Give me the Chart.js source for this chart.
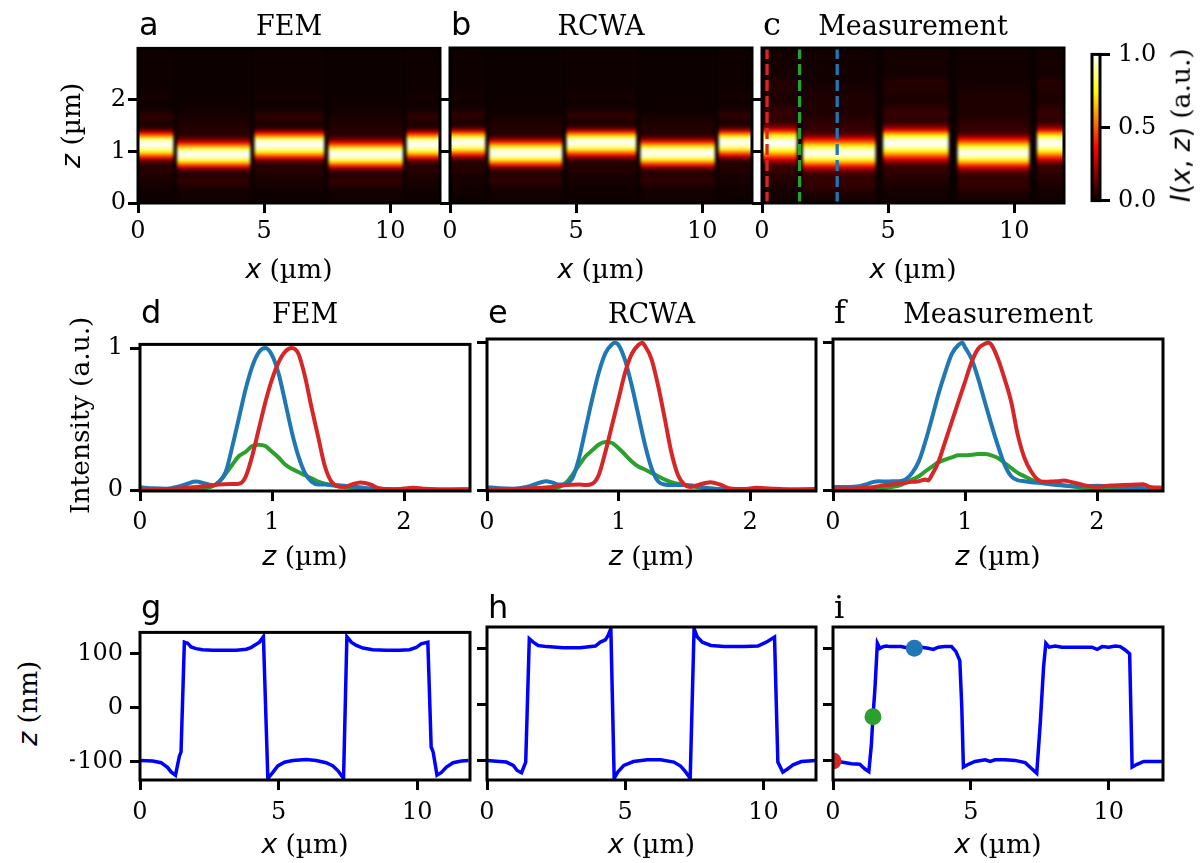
<!DOCTYPE html>
<html>
<head>
<meta charset="utf-8">
<script src="https://cdn.jsdelivr.net/npm/chart.js@4.4.0/dist/chart.umd.min.js"></script>
<style>
  body { margin: 0; background: #fff; }
  #fig { position: relative; width: 1201px; height: 863px; overflow: hidden; background: #fff; }
  canvas { position: absolute; }
  .t { position: absolute; white-space: nowrap; line-height: 1; color: #000; font-family: 'DejaVu Serif', serif; }
  .m { font-family: 'DejaVu Sans', sans-serif; font-style: italic; }
  .s { font-family: 'DejaVu Sans', sans-serif; }
</style>
</head>
<body>
<div id="fig"></div>
<script>
// ---- profiles I(z) along the three cuts (red x=0.2, green x=1.5, blue x=3 um) ----
const femBlueZ = [0,0.1,0.2,0.3,0.36,0.42,0.5,0.55,0.6,0.65,0.7,0.75,0.8,0.85,0.9,0.95,1.0,1.05,1.1,1.15,1.2,1.25,1.3,1.35,1.4,1.5,1.6,1.7,1.8,2.0,2.2,2.5];
const femBlueI = [0.02,0.013,0.01,0.027,0.045,0.06,0.045,0.034,0.06,0.13,0.31,0.51,0.71,0.87,0.97,1.0,0.95,0.82,0.62,0.41,0.24,0.12,0.06,0.04,0.04,0.034,0.027,0.016,0.01,0.005,0.003,0.003];
const femRedZ = [0,0.2,0.4,0.5,0.6,0.7,0.75,0.8,0.85,0.9,0.95,1.0,1.05,1.1,1.15,1.2,1.25,1.3,1.35,1.4,1.45,1.5,1.55,1.6,1.67,1.75,1.8,1.9,2.0,2.07,2.15,2.3,2.5];
const femRedI = [0.003,0.007,0.02,0.027,0.04,0.043,0.045,0.094,0.24,0.43,0.62,0.78,0.9,0.975,1.0,0.96,0.80,0.58,0.375,0.17,0.06,0.027,0.022,0.038,0.054,0.038,0.016,0.005,0.011,0.016,0.01,0.005,0.007];
const femGreenZ = [0,0.3,0.5,0.55,0.6,0.65,0.7,0.75,0.8,0.85,0.9,0.95,1.0,1.05,1.1,1.15,1.2,1.25,1.3,1.35,1.4,1.5,1.6,1.7,2.0,2.5];
const femGreenI = [0.002,0.004,0.016,0.027,0.06,0.117,0.18,0.24,0.27,0.31,0.32,0.31,0.27,0.23,0.18,0.15,0.128,0.105,0.083,0.06,0.045,0.027,0.016,0.009,0.002,0.002];

const rcwaBlueZ = [0,0.1,0.2,0.3,0.4,0.45,0.5,0.55,0.6,0.65,0.7,0.75,0.8,0.85,0.9,0.95,0.97,1.0,1.05,1.1,1.15,1.2,1.25,1.3,1.35,1.4,1.5,1.6,1.7,1.8,2.0,2.5];
const rcwaBlueI = [0.02,0.013,0.01,0.022,0.05,0.06,0.05,0.038,0.043,0.083,0.22,0.42,0.62,0.80,0.93,0.99,1.0,0.985,0.88,0.71,0.51,0.31,0.15,0.06,0.038,0.034,0.034,0.025,0.011,0.005,0.003,0.003];
const rcwaRedZ = [0,0.3,0.5,0.6,0.7,0.75,0.8,0.85,0.9,0.95,1.0,1.05,1.1,1.15,1.18,1.2,1.25,1.3,1.35,1.4,1.45,1.5,1.55,1.6,1.7,1.77,1.85,1.95,2.05,2.15,2.3,2.5];
const rcwaRedI = [0.002,0.011,0.022,0.034,0.038,0.034,0.043,0.105,0.26,0.44,0.62,0.80,0.925,0.985,1.0,0.98,0.89,0.71,0.49,0.26,0.105,0.038,0.022,0.034,0.054,0.038,0.011,0.007,0.016,0.011,0.005,0.007];
const rcwaGreenZ = [0,0.4,0.5,0.55,0.6,0.65,0.7,0.75,0.8,0.85,0.9,0.95,1.0,1.05,1.1,1.15,1.2,1.25,1.3,1.35,1.4,1.5,1.6,1.7,1.8,2.0,2.5];
const rcwaGreenI = [0.002,0.004,0.013,0.022,0.05,0.105,0.17,0.23,0.27,0.31,0.326,0.32,0.285,0.24,0.195,0.16,0.14,0.117,0.094,0.072,0.054,0.034,0.02,0.011,0.006,0.003,0.002];

const measBlueZ = [0,0.1,0.2,0.25,0.3,0.35,0.4,0.45,0.5,0.55,0.6,0.65,0.7,0.75,0.8,0.85,0.9,0.95,0.98,1.0,1.05,1.1,1.15,1.2,1.25,1.3,1.35,1.4,1.45,1.5,1.6,1.7,1.8,1.9,2.0,2.1,2.2,2.3,2.4,2.5];
const measBlueI = [0.022,0.022,0.027,0.038,0.054,0.06,0.058,0.06,0.06,0.072,0.117,0.195,0.33,0.49,0.656,0.80,0.925,0.985,1.0,0.97,0.89,0.757,0.60,0.445,0.30,0.173,0.094,0.067,0.06,0.054,0.045,0.034,0.027,0.027,0.029,0.027,0.022,0.016,0.011,0.011];
const measRedZ = [0,0.1,0.2,0.3,0.35,0.4,0.45,0.5,0.55,0.6,0.65,0.7,0.72,0.75,0.8,0.85,0.9,0.95,1.0,1.05,1.1,1.15,1.18,1.2,1.25,1.3,1.35,1.4,1.45,1.5,1.55,1.6,1.65,1.7,1.75,1.8,1.9,2.0,2.1,2.2,2.3,2.35,2.4,2.5];
const measRedI = [0.011,0.011,0.013,0.02,0.027,0.034,0.038,0.043,0.05,0.056,0.06,0.072,0.065,0.105,0.195,0.33,0.465,0.60,0.735,0.87,0.96,0.993,1.0,0.987,0.89,0.755,0.60,0.375,0.22,0.128,0.072,0.056,0.058,0.06,0.065,0.056,0.034,0.022,0.031,0.034,0.038,0.04,0.022,0.016];
const measGreenZ = [0,0.2,0.3,0.4,0.5,0.55,0.6,0.65,0.7,0.75,0.8,0.85,0.9,0.95,1.0,1.05,1.1,1.15,1.2,1.25,1.3,1.35,1.4,1.45,1.5,1.6,1.7,1.8,1.9,2.0,2.2,2.5];
const measGreenI = [0.005,0.005,0.009,0.016,0.031,0.05,0.072,0.094,0.128,0.16,0.19,0.207,0.222,0.236,0.236,0.24,0.245,0.245,0.236,0.218,0.184,0.15,0.117,0.094,0.072,0.05,0.038,0.027,0.016,0.011,0.009,0.007];

// ---- surface height z(x) in nm ----
const femX = [0,0.46,0.76,1.0,1.12,1.28,1.42,1.48,1.6,1.72,1.84,2.02,2.26,2.62,3.1,3.47,3.83,4.0,4.19,4.31,4.45,4.61,4.79,4.97,5.21,5.51,5.99,6.35,6.71,6.96,7.14,7.34,7.46,7.62,7.8,8.04,8.4,8.88,9.36,9.72,9.96,10.14,10.38,10.5,10.57,10.71,10.87,11.05,11.29,11.59,11.85];
const femH = [-98,-99,-102,-111,-119,-125,-90,-82,121,119,112,109,107,106,106,106,108,111,117,121,131,-131,-120,-108,-101,-98,-96,-98,-102,-108,-117,-131,131,121,115,110,107,106,106,107,111,118,121,-73,-82,-125,-120,-110,-102,-99,-98];
const rcwaX = [0,0.46,0.7,0.95,1.09,1.25,1.4,1.53,1.67,1.85,2.16,2.76,3.37,3.92,4.1,4.28,4.38,4.48,4.6,4.73,4.95,5.3,5.8,6.28,6.76,7.0,7.19,7.35,7.49,7.61,7.79,8.1,8.58,9.31,9.8,10.1,10.4,10.52,10.7,10.88,11.07,11.37,11.89];
const rcwaH = [-99,-101,-102,-108,-117,-121,-102,118,112,106,104,102,102,105,112,116,124,136,-131,-120,-108,-101,-98,-98,-102,-109,-120,-131,136,121,112,106,104,104,105,112,121,-102,-120,-114,-107,-101,-99];
const measX = [0,0.3,0.67,0.97,1.15,1.3,1.39,1.45,1.52,1.61,1.7,1.82,1.94,2.06,2.24,2.48,2.73,2.95,3.21,3.45,3.64,3.82,4.06,4.3,4.46,4.6,4.67,4.73,4.91,5.15,5.52,5.7,5.88,6.24,6.6,6.97,7.21,7.39,7.52,7.64,7.72,7.84,8.06,8.3,8.67,9.03,9.39,9.58,9.76,10.0,10.24,10.42,10.6,10.76,10.85,11.03,11.27,11.58,11.94];
const measH = [-101,-102,-105,-106,-114,-119,-72,-21,28,110,101,104,105,104,104,104,101,101,103,101,99,103,104,104,95,79,-2,-111,-106,-101,-98,-101,-98,-98,-99,-103,-114,-122,-31,69,110,103,105,103,103,103,103,99,104,103,105,104,98,91,-111,-106,-101,-101,-101];

// cut positions shown in c and the matching points in i
const cutX = [0.2, 1.49, 2.98];
const cutColors = ['#d62728', '#2ca02c', '#1f77b4'];
const dotX = [0, 1.45, 2.95];
const dotH = [-100, -21, 101];

// heat-map segments along x: which profile lights each stripe
const simSegX = [0, 1.4, 1.55, 4.45, 4.62, 7.38, 7.55, 10.5, 10.65, 11.97];
const measSegX = [0, 1.38, 1.62, 4.5, 4.8, 7.4, 7.75, 10.6, 10.9, 11.97];
const segKind = ['red', null, 'blue', null, 'red', null, 'blue', null, 'red'];

// ticks and their labels
const xTicksMap = [0, 5, 10];
const zTicksMap = [0, 1, 2];
const zTicksProf = [0, 1, 2];
const iTicksProf = [0, 1];
const hTicks = [-100, 0, 100];
const hTickLabels = ['\u2212100', '0', '100'];
const cbTicks = [0, 0.5, 1.0];
const cbTickLabels = ['0.0', '0.5', '1.0'];

// ---------------------------------------------------------------
const FONT = "'DejaVu Serif', serif";
const YW = 70, PT = 16, PR = 10, XH = 52;
const fig = document.getElementById('fig');

function hot(v) {
  v = Math.max(0, Math.min(1, v));
  const a = 0.365079, b = 0.746032;
  const r = v < a ? 0.0416 + (1 - 0.0416) * v / a : 1;
  const g = v < a ? 0 : (v < b ? (v - a) / (b - a) : 1);
  const bl = v < b ? 0 : (v - b) / (1 - b);
  return 'rgb(' + Math.round(r * 255) + ',' + Math.round(g * 255) + ',' + Math.round(bl * 255) + ')';
}

const spines = {
  id: 'spines',
  afterDraw(chart) {
    const a = chart.chartArea, ctx = chart.ctx;
    ctx.save();
    ctx.strokeStyle = '#000';
    ctx.lineWidth = 3;
    ctx.strokeRect(a.left, a.top, a.right - a.left, a.bottom - a.top);
    ctx.restore();
  }
};

const heatmap = {
  id: 'heatmap',
  beforeDatasetsDraw(chart) {
    const hm = chart.options.plugins.heatmap;
    if (!hm || !hm.segX) return;
    const ctx = chart.ctx, a = chart.chartArea, x = chart.scales.x, y = chart.scales.y;
    ctx.save();
    ctx.beginPath();
    ctx.rect(a.left, a.top, a.right - a.left, a.bottom - a.top);
    ctx.clip();
    ctx.fillStyle = hot(0);
    ctx.fillRect(a.left, a.top, a.right - a.left, a.bottom - a.top);
    ctx.filter = 'blur(1.5px)';
    const yb = y.getPixelForValue(y.min), yt = y.getPixelForValue(y.max);
    for (let k = 0; k < hm.kinds.length; k++) {
      const prof = hm.profiles[hm.kinds[k]];
      if (!prof) continue;
      const x0 = x.getPixelForValue(hm.segX[k]), x1 = x.getPixelForValue(hm.segX[k + 1]);
      const grad = ctx.createLinearGradient(0, yb, 0, yt);
      for (let i = 0; i < prof.z.length; i++) {
        grad.addColorStop((prof.z[i] - y.min) / (y.max - y.min), hot(prof.v[i]));
      }
      ctx.fillStyle = grad;
      const ex0 = k === 0 ? a.left - 6 : x0, ex1 = k === hm.kinds.length - 1 ? a.right + 6 : x1;
      ctx.fillRect(ex0, yt - 6, ex1 - ex0, yb - yt + 12);
    }
    ctx.restore();
  }
};

function addCanvas(box) {
  const c = document.createElement('canvas');
  const w = YW + box.w + PR, h = PT + box.h + XH;
  c.width = w; c.height = h;
  c.style.left = (box.l - YW) + 'px';
  c.style.top = (box.t - PT) + 'px';
  c.style.width = w + 'px'; c.style.height = h + 'px';
  fig.appendChild(c);
  return c;
}

function axis(min, max, ticks, show, pad, fit, labels) {
  return {
    type: 'linear', min: min, max: max,
    afterBuildTicks: s => { s.ticks = ticks.map(v => ({ value: v })); },
    afterFit: fit,
    grid: { drawOnChartArea: false, drawTicks: true, tickLength: 10, tickWidth: 3, tickColor: '#000' },
    border: { display: false },
    ticks: {
      display: show, padding: pad, color: '#000', maxRotation: 0, autoSkip: false,
      font: { family: FONT, size: 24 },
      callback: (v, i) => labels ? labels[i] : String(v)
    }
  };
}

function panel(box, xr, yr, datasets, extra) {
  const c = addCanvas(box);
  const opts = Object.assign({ xpad: 6, ypad: 4, yshow: true, ylabels: null }, extra);
  new Chart(c, {
    type: 'scatter',
    data: { datasets: datasets },
    options: {
      responsive: false, animation: false, devicePixelRatio: 1,
      layout: { padding: { top: PT, right: PR, left: 0, bottom: 0 } },
      plugins: { legend: { display: false }, tooltip: { enabled: false }, heatmap: opts.heatmap || {} },
      scales: {
        x: axis(xr[0], xr[1], xr[2], true, opts.xpad, s => { s.height = XH; }),
        y: axis(yr[0], yr[1], yr[2], opts.yshow, opts.ypad, s => { s.width = YW; }, opts.ylabels)
      }
    },
    plugins: [heatmap, spines]
  });
}

function curve(xs, ys, color, width, smooth, order) {
  return {
    data: xs.map((v, i) => ({ x: v, y: ys[i] })),
    showLine: true, borderColor: color, borderWidth: width, pointRadius: 0,
    cubicInterpolationMode: smooth ? 'monotone' : 'default', tension: 0, order: order || 0
  };
}

// --- layout of the nine axes ---
const boxes = {
  a: { l: 138, t: 48, w: 302, h: 155 }, b: { l: 450, t: 48, w: 302, h: 155 }, c: { l: 762, t: 48, w: 302, h: 155 },
  d: { l: 140, t: 339, w: 330, h: 152 }, e: { l: 487, t: 339, w: 329, h: 152 }, f: { l: 833, t: 339, w: 330, h: 152 },
  g: { l: 140, t: 627, w: 330, h: 153 }, h: { l: 487, t: 627, w: 329, h: 153 }, i: { l: 833, t: 627, w: 330, h: 153 }
};

const profSets = {
  fem: { red: { z: femRedZ, v: femRedI }, green: { z: femGreenZ, v: femGreenI }, blue: { z: femBlueZ, v: femBlueI } },
  rcwa: { red: { z: rcwaRedZ, v: rcwaRedI }, green: { z: rcwaGreenZ, v: rcwaGreenI }, blue: { z: rcwaBlueZ, v: rcwaBlueI } },
  meas: { red: { z: measRedZ, v: measRedI }, green: { z: measGreenZ, v: measGreenI }, blue: { z: measBlueZ, v: measBlueI } }
};

// row 1: intensity maps
const mapX = [0, 11.97, xTicksMap], mapZ = [0, 3, zTicksMap];
panel(boxes.a, mapX, mapZ, [], { xpad: 4, ypad: 2, heatmap: { segX: simSegX, kinds: segKind, profiles: profSets.fem } });
panel(boxes.b, mapX, mapZ, [], { xpad: 4, yshow: false, heatmap: { segX: simSegX, kinds: segKind, profiles: profSets.rcwa } });
panel(boxes.c, mapX, mapZ,
  cutX.map((cx, k) => ({
    data: [{ x: cx, y: mapZ[0] }, { x: cx, y: mapZ[1] }],
    showLine: true, borderColor: cutColors[k], borderWidth: 3.3, borderDash: [11, 5], pointRadius: 0
  })),
  { xpad: 4, yshow: false, heatmap: { segX: measSegX, kinds: segKind, profiles: profSets.meas } });

// row 2: profiles
const profZ = [0, 2.5, zTicksProf], profI = [-0.006, 1.026, iTicksProf];
['fem', 'rcwa', 'meas'].forEach((key, k) => {
  const p = profSets[key];
  panel(boxes['def'[k]], profZ, profI, [
    curve(p.red.z, p.red.v, '#d62728', 4, true, 1),
    curve(p.blue.z, p.blue.v, '#1f77b4', 4, true, 2),
    curve(p.green.z, p.green.v, '#2ca02c', 4, true, 3)
  ], { xpad: 7, ypad: 7, yshow: k === 0 });
});

// row 3: surface heights
const hY = [-134, 139, hTicks];
panel(boxes.g, [0, 11.9, xTicksMap], hY, [curve(femX, femH, '#0000ff', 3.5, false)], { xpad: 8, ypad: 7, ylabels: hTickLabels });
panel(boxes.h, [0, 11.9, xTicksMap], hY, [curve(rcwaX, rcwaH, '#0000ff', 3.5, false)], { xpad: 8, yshow: false });
panel(boxes.i, [0, 11.97, xTicksMap], hY, [
  { data: dotX.map((v, k) => ({ x: v, y: dotH[k] })), pointRadius: 8.5, pointBackgroundColor: cutColors, pointBorderWidth: 0, order: 1 },
  curve(measX, measH, '#0000ff', 3.5, false, 2)
], { xpad: 8, yshow: false });

// colorbar
(function () {
  const box = { l: 1092, t: 48, w: 8, h: 155 };
  const c = document.createElement('canvas');
  const w = 2 + box.w + 80, h = PT + box.h + 20;
  c.width = w; c.height = h;
  c.style.left = (box.l - 2) + 'px'; c.style.top = (box.t - PT) + 'px';
  c.style.width = w + 'px'; c.style.height = h + 'px';
  fig.appendChild(c);
  const bar = {
    id: 'bar',
    beforeDatasetsDraw(chart) {
      const a = chart.chartArea, y = chart.scales.y, ctx = chart.ctx;
      const grad = ctx.createLinearGradient(0, y.getPixelForValue(0), 0, y.getPixelForValue(1));
      [0, 0.365079, 0.746032, 1].forEach(s => grad.addColorStop(s, hot(s)));
      ctx.save(); ctx.fillStyle = grad;
      ctx.fillRect(a.left, a.top, a.right - a.left, a.bottom - a.top);
      ctx.restore();
    }
  };
  new Chart(c, {
    type: 'scatter', data: { datasets: [] },
    options: {
      responsive: false, animation: false, devicePixelRatio: 1,
      layout: { padding: { top: PT, left: 2, right: 0, bottom: 20 } },
      plugins: { legend: { display: false }, tooltip: { enabled: false } },
      scales: {
        x: { display: false, min: 0, max: 1 },
        y: Object.assign(axis(0, 1, cbTicks, true, 8, s => { s.width = 80; }, cbTickLabels), { position: 'right' })
      }
    },
    plugins: [bar, spines]
  });
})();

// ---- text ----
function text(html, css) {
  const d = document.createElement('div');
  d.className = 't';
  d.innerHTML = html;
  Object.assign(d.style, css);
  fig.appendChild(d);
  return d;
}
function ylabel(html, cx, cy, size) {
  text(html, { left: (cx - 150) + 'px', top: (cy - size / 2) + 'px', width: '300px', textAlign: 'center',
    fontSize: size + 'px', lineHeight: size + 'px', transform: 'rotate(-90deg)' });
}

const titles = ['FEM', 'RCWA', 'Measurement'];
const letterBase = { a: 8, b: 8, c: 8, d: 296, e: 296, f: 296, g: 591, h: 591, i: 591 };
'abcdefghi'.split('').forEach((k, n) => {
  const b = boxes[k];
  const serif = (n % 3) === 2;
  text(k, { left: (b.l + 1) + 'px', top: letterBase[k] + 'px', fontSize: '32px',
    fontFamily: serif ? "'DejaVu Serif', serif" : "'DejaVu Sans', sans-serif" });
  if (n < 6) {
    text(titles[n % 3], { left: b.l + 'px', width: b.w + 'px', textAlign: 'center', top: (n < 3 ? 12 : 300) + 'px', fontSize: '27px' });
  }
  const xl = n < 3 ? '<span class="m">x</span> (µm)' : (n < 6 ? '<span class="m">z</span> (µm)' : '<span class="m">x</span> (µm)');
  const xt = n < 3 ? 256 : (n < 6 ? 543 : 831);
  text(xl, { left: b.l + 'px', width: b.w + 'px', textAlign: 'center', top: xt + 'px', fontSize: '26.5px' });
});
ylabel('<span class="m">z</span> (µm)', 71, 125.5, 26.5);
ylabel('Intensity (a.u.)', 80, 415, 26.5);
ylabel('<span class="m">z</span> (nm)', 28, 703.5, 26.5);
ylabel('<span class="m">I</span><span class="s">(</span><span class="m">x</span><span class="s">, </span><span class="m">z</span><span class="s">)</span> (a.u.)', 1181, 125.5, 26.5);
</script>
</body>
</html>
